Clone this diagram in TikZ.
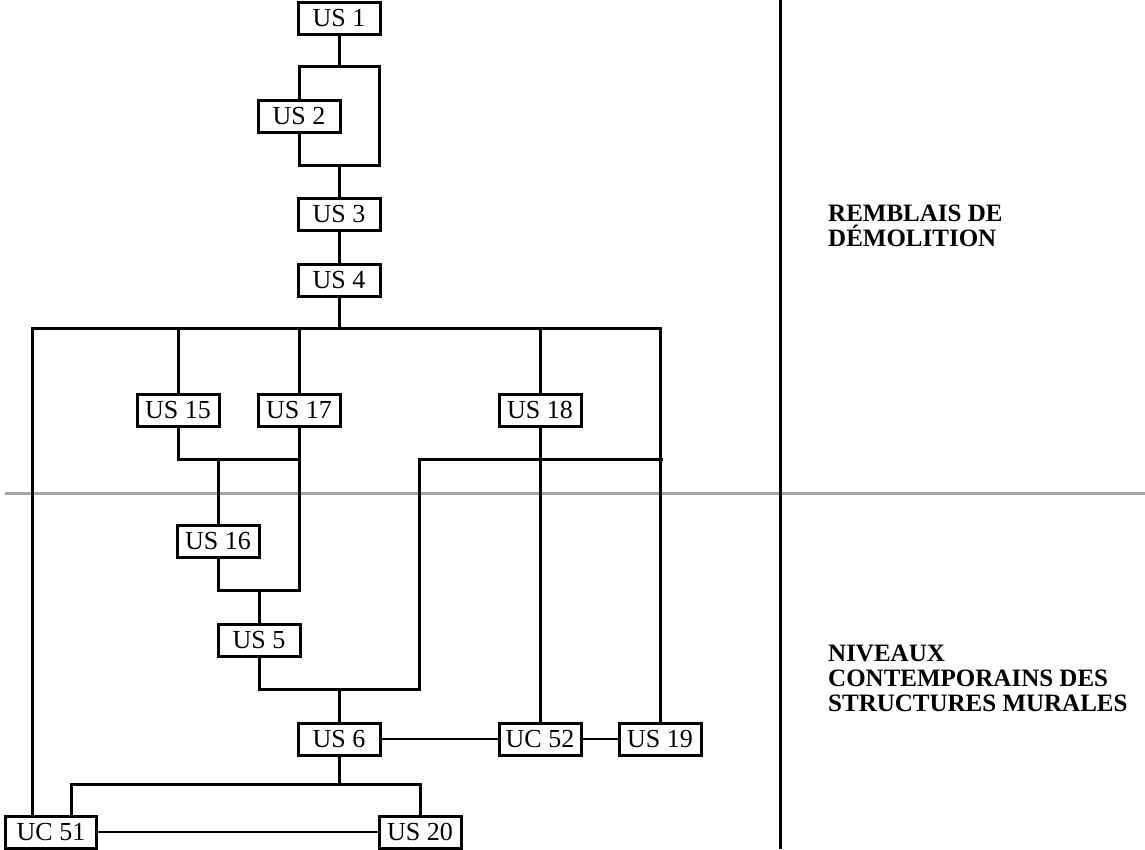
\documentclass[tikz,border=0pt]{standalone}
\usepackage{fontspec}
\setmainfont{Liberation Serif}
\usepackage{tikz}
\usetikzlibrary{positioning}

\begin{document}
\begin{tikzpicture}[x=1pt,y=-1pt,line join=miter,
  us/.style={draw,line width=3pt,fill=white,minimum width=82pt,minimum height=32pt,inner sep=0pt,font=\fontsize{26}{26}\selectfont},
  link/.style={line width=3pt},
  thinlink/.style={line width=1.8pt},
  zone/.style={align=left,inner sep=0pt,font=\fontsize{25}{25}\selectfont\bfseries}]
\useasboundingbox (0,0) rectangle (1145,849);
% limit of the two phases
\draw[gray!70,line width=3pt] (5,493) -- (1145,493);
\draw[line width=3pt] (780,0) -- (780,849);
% units
\node[us] (us1) at (339,18) {US 1};
\node[us] (us2) at (299,116) {US 2};
\node[us] (us3) at (339,214) {US 3};
\node[us] (us4) at (339,280) {US 4};
\node[us] (us15) at (178,410) {US 15};
\node[us] (us17) at (299,410) {US 17};
\node[us] (us18) at (540,410) {US 18};
\node[us] (us16) at (218,541) {US 16};
\node[us] (us5) at (259,640) {US 5};
\node[us] (us6) at (339,739) {US 6};
\node[us] (uc52) at (540,739) {UC 52};
\node[us] (us19) at (660,739) {US 19};
\node[us,minimum width=91pt] (uc51) at (51,832) {UC 51};
\node[us] (us20) at (420,832) {US 20};
% junctions
\coordinate (t2) at (379,66);
\coordinate (b2) at (379,165);
\coordinate (bar4) at (32,328);
\coordinate (j16) at (218,459);
\coordinate (j5) at (259,590);
\coordinate (j6) at (419,689);
\coordinate (j19) at (663,459);
\coordinate (j20) at (71,784);
% US 1 -- US 4
\draw[link] (us1) -- (us1 |- t2);
\draw[link] (us2.north) |- (t2) -- (b2) -| (us2.south);
\draw[link] (us3) -- (us3 |- b2);
\draw[link] (us3) -- (us4);
% bar under US 4
\draw[link] (us4) -- (us4 |- bar4);
\draw[link] (uc51.north -| bar4) |- (us19.north |- bar4) -- (us19);
\draw[link] (us15) -- (us15 |- bar4);
\draw[link] (us17) -- (us17 |- bar4);
\draw[link] (us18) -- (us18 |- bar4);
% US 15, US 17 -> US 16 -> US 5
\draw[link] (us15) |- (us17 |- j16);
\draw[link] (us16) -- (us16 |- j16);
\draw[link] (us16) |- (us17 |- j5) -- (us17);
\draw[link] (us5) -- (us5 |- j5);
% US 5 -> US 6, return to US 19
\draw[link] (us5) |- (j6) |- (j19);
\draw[link] (us6) -- (us6 |- j6);
\draw[link] (us18) -- (uc52);
\draw[thinlink] (us6) -- (uc52);
\draw[thinlink] (uc52) -- (us19);
% US 6 -> UC 51, US 20
\draw[link] (us6) -- (us6 |- j20);
\draw[link] (uc51.north -| j20) |- (us20.north |- j20) -- (us20);
\draw[thinlink] (uc51) -- (us20);
% phases
\node[zone,anchor=north west] (remblais) at (828,205) {REMBLAIS DE\\DÉMOLITION};
\node[zone,anchor=north west] (niveaux) at (828,645) {NIVEAUX\\CONTEMPORAINS DES\\STRUCTURES MURALES};
\end{tikzpicture}
\end{document}
